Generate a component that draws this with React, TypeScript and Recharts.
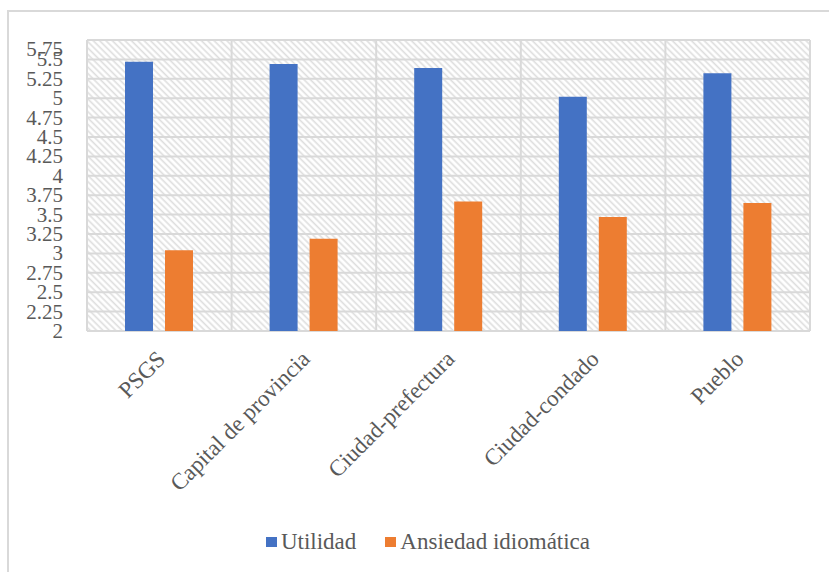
import { BarChart, Bar, XAxis, YAxis, CartesianGrid, Legend } from "recharts";

const categories = ["PSGS", "Capital de provincia", "Ciudad-prefectura", "Ciudad-condado", "Pueblo"];
const utilidad = [5.47, 5.44, 5.39, 5.02, 5.32];
const ansiedad = [3.04, 3.19, 3.67, 3.47, 3.65];
const yTicks = [2, 2.25, 2.5, 2.75, 3, 3.25, 3.5, 3.75, 4, 4.25, 4.5, 4.75, 5, 5.25, 5.5, 5.75];

const series = [
  { key: "utilidad", name: "Utilidad", color: "#4472C4" },
  { key: "ansiedad", name: "Ansiedad idiomática", color: "#ED7D31" },
];

const FONT = '"Liberation Serif", "Times New Roman", serif';
const TEXT = "#595959";
const GRID = "#d9d9d9";

const data = categories.map((name, i) => ({ name, utilidad: utilidad[i], ansiedad: ansiedad[i] }));

function YTick({ x, y, payload }: any) {
  // the top label is nudged down so it stays level with the plot frame
  const shift = payload.value === yTicks[yTicks.length - 1] ? 9 : 0;
  return (
    <text x={x} y={y + shift} dy="0.33em" textAnchor="end" fill={TEXT} fontFamily={FONT} fontSize={21}>
      {payload.value}
    </text>
  );
}

function XTick({ x, y, payload }: any) {
  return (
    <g transform={`translate(${x + 2},${y + 24})`}>
      <text transform="rotate(-45)" textAnchor="end" dy="0.33em" fill={TEXT} fontFamily={FONT} fontSize={23}>
        {payload.value}
      </text>
    </g>
  );
}

function LegendBox() {
  return (
    <div style={{ display: "flex", justifyContent: "center", alignItems: "center", height: 24, paddingLeft: 46, gap: 29 }}>
      {series.map((s) => (
        <div key={s.key} style={{ display: "flex", alignItems: "center", gap: 4 }}>
          <span style={{ width: 11, height: 10, background: s.color, display: "inline-block" }} />
          <span style={{ fontFamily: FONT, fontSize: 23, color: TEXT }}>{s.name}</span>
        </div>
      ))}
    </div>
  );
}

// grid columns fall on category boundaries rather than on the ticks
const boundaryLines = ({ offset }: any) =>
  categories.map((_, i) => offset.left + (i * offset.width) / categories.length).concat(offset.left + offset.width);

export default function App() {
  return (
    <div style={{ position: "absolute", left: 0, top: 0, width: 829, height: 572, overflow: "hidden", background: "#fff" }}>
      <div style={{ position: "absolute", left: 7, top: 10, width: 900, height: 700, border: `2px solid ${GRID}` }} />
      <BarChart
        width={829}
        height={572}
        data={data}
        margin={{ top: 40, right: 19, bottom: 18, left: 0 }}
        barSize={28}
        barGap={12}
      >
        <defs>
          <pattern id="hatch" width="4.5" height="4.5" patternUnits="userSpaceOnUse" patternTransform="rotate(-45)">
            <rect width="4.5" height="4.5" fill="#fff" />
            <line x1="1.2" y1="0" x2="1.2" y2="4.5" stroke="#dedede" strokeWidth="1.6" />
          </pattern>
        </defs>
        <CartesianGrid
          fill="url(#hatch)"
          fillOpacity={1}
          stroke={GRID}
          strokeWidth={2}
          verticalCoordinatesGenerator={boundaryLines}
        />
        <XAxis dataKey="name" height={199} axisLine={false} tickLine={false} tickSize={0} tickMargin={0} tick={<XTick />} interval={0} />
        <YAxis
          width={87}
          domain={[2, 5.75]}
          ticks={yTicks}
          axisLine={false}
          tickLine={false}
          tickSize={0}
          tickMargin={24}
          tick={<YTick />}
          interval={0}
        />
        <Legend verticalAlign="bottom" height={24} content={() => <LegendBox />} />
        {series.map((s) => (
          <Bar key={s.key} dataKey={s.key} name={s.name} fill={s.color} isAnimationActive={false} />
        ))}
      </BarChart>
    </div>
  );
}
